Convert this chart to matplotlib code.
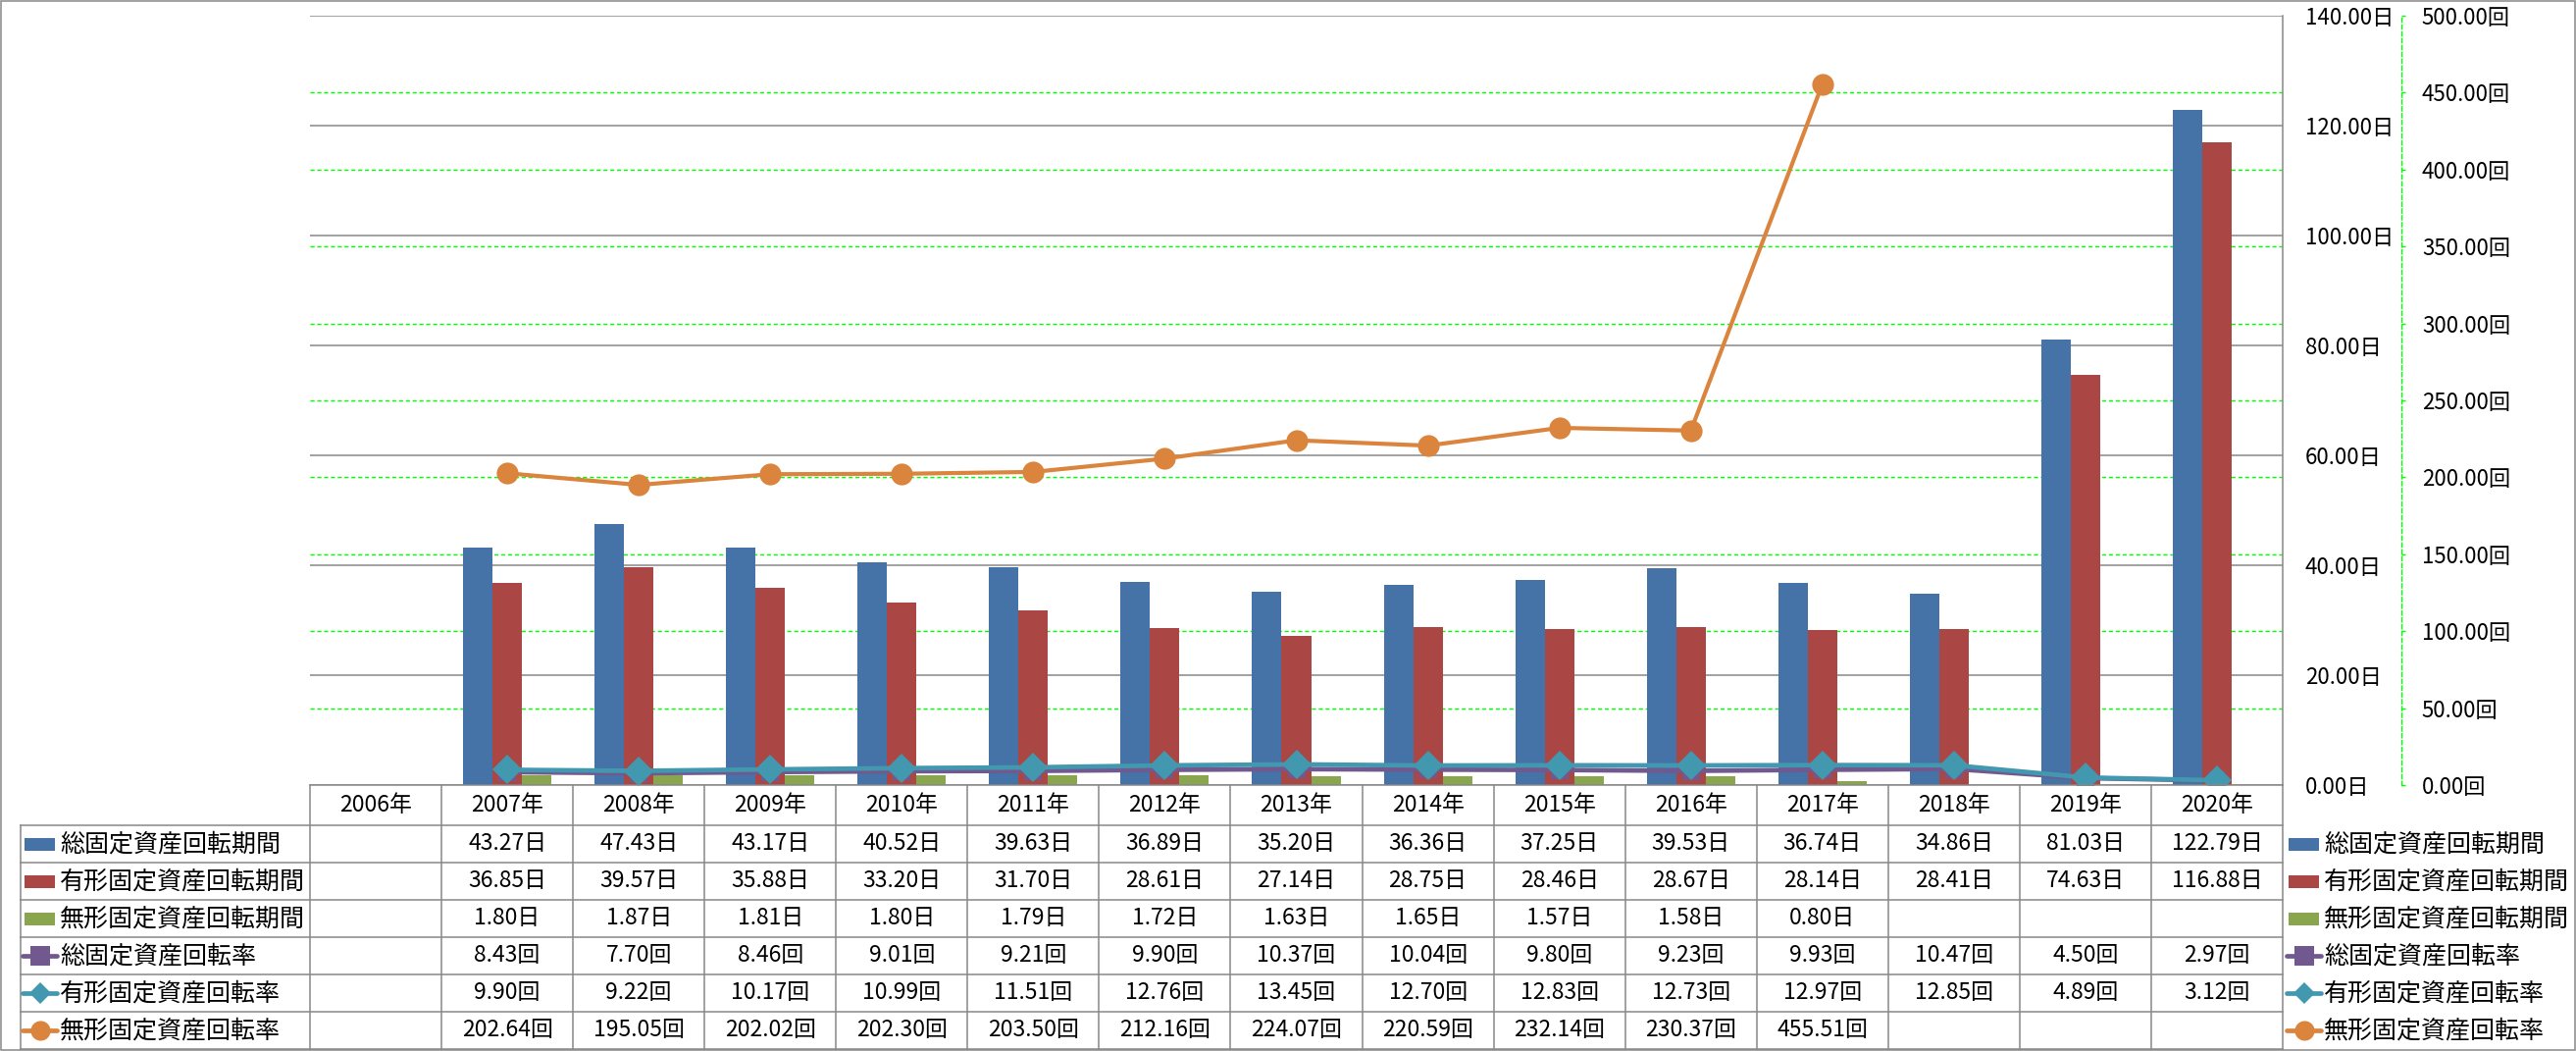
import numpy as np
import matplotlib
matplotlib.use('Agg')
import matplotlib.pyplot as plt
from matplotlib.patches import Rectangle

plt.rcParams['font.family'] = ['Noto Sans CJK JP', 'DejaVu Sans']

# ---------------- data ----------------
years = ['2006年', '2007年', '2008年', '2009年', '2010年', '2011年', '2012年',
         '2013年', '2014年', '2015年', '2016年', '2017年', '2018年', '2019年', '2020年']
nan = np.nan
total_period = [nan, 43.27, 47.43, 43.17, 40.52, 39.63, 36.89, 35.20, 36.36, 37.25,
                39.53, 36.74, 34.86, 81.03, 122.79]
tangible_period = [nan, 36.85, 39.57, 35.88, 33.20, 31.70, 28.61, 27.14, 28.75, 28.46,
                   28.67, 28.14, 28.41, 74.63, 116.88]
intangible_period = [nan, 1.80, 1.87, 1.81, 1.80, 1.79, 1.72, 1.63, 1.65, 1.57,
                     1.58, 0.80, nan, nan, nan]
total_rate = [nan, 8.43, 7.70, 8.46, 9.01, 9.21, 9.90, 10.37, 10.04, 9.80,
              9.23, 9.93, 10.47, 4.50, 2.97]
tangible_rate = [nan, 9.90, 9.22, 10.17, 10.99, 11.51, 12.76, 13.45, 12.70, 12.83,
                 12.73, 12.97, 12.85, 4.89, 3.12]
intangible_rate = [nan, 202.64, 195.05, 202.02, 202.30, 203.50, 212.16, 224.07, 220.59,
                   232.14, 230.37, 455.51, nan, nan, nan]

series_names = ['総固定資産回転期間', '有形固定資産回転期間', '無形固定資産回転期間',
                '総固定資産回転率', '有形固定資産回転率', '無形固定資産回転率']
day_ticks = [0, 20, 40, 60, 80, 100, 120, 140]
rate_ticks = [0, 50, 100, 150, 200, 250, 300, 350, 400, 450, 500]

C_BLUE, C_RED, C_GREEN = '#4572A7', '#AA4643', '#89A54E'
C_PURPLE, C_TEAL, C_ORANGE = '#71588F', '#4198AF', '#DB843D'
GRAY = '#888888'
LIME = '#00FF00'

# ---------------- layout ----------------
W, H = 2626, 1071
DPI = 100
fig = plt.figure(figsize=(W / DPI, H / DPI), dpi=DPI)
fig.patch.set_facecolor('white')

def fx(px):
    return px / W

def fy(py):
    return 1 - py / H

PL, PR, PT, PB = 316, 2327, 16, 800
ax = fig.add_axes([fx(PL), fy(PB), fx(PR) - fx(PL), fy(PT) - fy(PB)])
ax.set_facecolor('none')
ax2 = ax.twinx()

x = np.arange(len(years))
bw = 0.224
ax.bar(x - bw, total_period, bw, color=C_BLUE, zorder=3)
ax.bar(x, tangible_period, bw, color=C_RED, zorder=3)
ax.bar(x + bw, intangible_period, bw, color=C_GREEN, zorder=3)

ax.set_xlim(-0.5, len(years) - 0.5)
ax.set_ylim(0, 140)
ax.set_xticks([])
ax.set_yticks(day_ticks)
ax.set_yticklabels([f'{v:.2f}日' for v in day_ticks])
ax.yaxis.tick_right()
ax.tick_params(axis='y', which='both', left=False, right=False, labelleft=False,
               labelright=True, length=0, pad=16.5, labelsize=16, labelcolor='black')
ax.yaxis.grid(True, color=GRAY, lw=1.1, zorder=1)
ax.set_axisbelow(True)
for s in ['top', 'left', 'bottom']:
    ax.spines[s].set_visible(False)
ax.spines['right'].set_color(GRAY)
ax.spines['right'].set_linewidth(1.1)

# green dashed grid lines for the rate axis (drawn behind bars and gray grid)
for t in rate_ticks[1:-1]:
    ax.axhline(t * 140 / 500, color=LIME, lw=1.0, ls=(0, (3, 2)), zorder=0.3)

ax2.set_ylim(0, 500)
ax2.set_xlim(-0.5, len(years) - 0.5)
ax2.set_yticks(rate_ticks)
ax2.set_yticklabels([f'{v:.2f}回' for v in rate_ticks])
ax2.spines['right'].set_position(('axes', (2448 - PL) / (PR - PL)))
ax2.spines['right'].set_color(LIME)
ax2.spines['right'].set_linestyle((0, (3, 2)))
ax2.spines['right'].set_linewidth(1.0)
for s in ['top', 'left', 'bottom']:
    ax2.spines[s].set_visible(False)
ax2.tick_params(axis='y', direction='out', length=3, width=1, color=LIME, pad=12,
                labelsize=16, labelcolor='black')

ax2.plot(x, total_rate, color=C_PURPLE, lw=3.4, marker='s', ms=13,
         markeredgewidth=0, zorder=4, solid_joinstyle='round')
ax2.plot(x, tangible_rate, color=C_TEAL, lw=3.4, marker='D', ms=15,
         markeredgewidth=0, zorder=5, solid_joinstyle='round')
ax2.plot(x, intangible_rate, color=C_ORANGE, lw=3.0, marker='o', ms=16,
         markeredgewidth=0, zorder=6, solid_joinstyle='round')

# ---------------- table ----------------
tab = fig.add_axes([0, 0, 1, 1])
tab.set_xlim(0, W)
tab.set_ylim(H, 0)
tab.axis('off')
tab.patch.set_alpha(0)

ncol = len(years)
colw = (PR - PL) / ncol
LBL_L = 21
row_tops = [841 + 38 * k for k in range(7)]
LW = 1.1

tab.plot([PL, PR], [PB, PB], color=GRAY, lw=LW)
for yy in row_tops:
    tab.plot([LBL_L, PR], [yy, yy], color=GRAY, lw=LW)
for i in range(ncol + 1):
    xx = PL + i * colw
    tab.plot([xx, xx], [PB, row_tops[-1]], color=GRAY, lw=LW)
tab.plot([LBL_L, LBL_L], [row_tops[0], row_tops[-1]], color=GRAY, lw=LW)

for i, yr in enumerate(years):
    tab.text(PL + (i + 0.5) * colw, (PB + row_tops[0]) / 2, yr, ha='center',
             va='center', fontsize=16.5)

table_rows = [(total_period, '日'), (tangible_period, '日'), (intangible_period, '日'),
              (total_rate, '回'), (tangible_rate, '回'), (intangible_rate, '回')]
for r, (vals, unit) in enumerate(table_rows):
    yc = (row_tops[r] + row_tops[r + 1]) / 2
    for i, v in enumerate(vals):
        if not np.isnan(v):
            tab.text(PL + (i + 0.5) * colw, yc, f'{v:.2f}{unit}', ha='center',
                     va='center', fontsize=16.5)

styles = [('bar', C_BLUE, None), ('bar', C_RED, None), ('bar', C_GREEN, None),
          ('line', C_PURPLE, 's'), ('line', C_TEAL, 'D'), ('line', C_ORANGE, 'o')]

def draw_key(x0, yc, style):
    kind, col, mk = style
    if kind == 'bar':
        tab.add_patch(Rectangle((x0 + 1, yc - 6.5), 31, 13, color=col, lw=0))
    else:
        tab.plot([x0 - 1, x0 + 34], [yc, yc], color=col, lw=3.4,
                 solid_capstyle='round')
        ms = {'s': 14, 'D': 11, 'o': 14.5}[mk]
        tab.plot([x0 + 16.5], [yc], marker=mk, ms=ms, color=col, markeredgewidth=0)

for r, (name, st) in enumerate(zip(series_names, styles)):
    yc = (row_tops[r] + row_tops[r + 1]) / 2
    draw_key(24, yc, st)
    tab.text(61, yc, name, ha='left', va='center', fontsize=18)
    draw_key(2332, yc, st)
    tab.text(2369, yc, name, ha='left', va='center', fontsize=18)

tab.add_patch(Rectangle((0.5, 0.5), W - 1.5, H - 1.5, fill=False, ec=GRAY, lw=1.1))

fig.savefig('out.png', dpi=DPI)
